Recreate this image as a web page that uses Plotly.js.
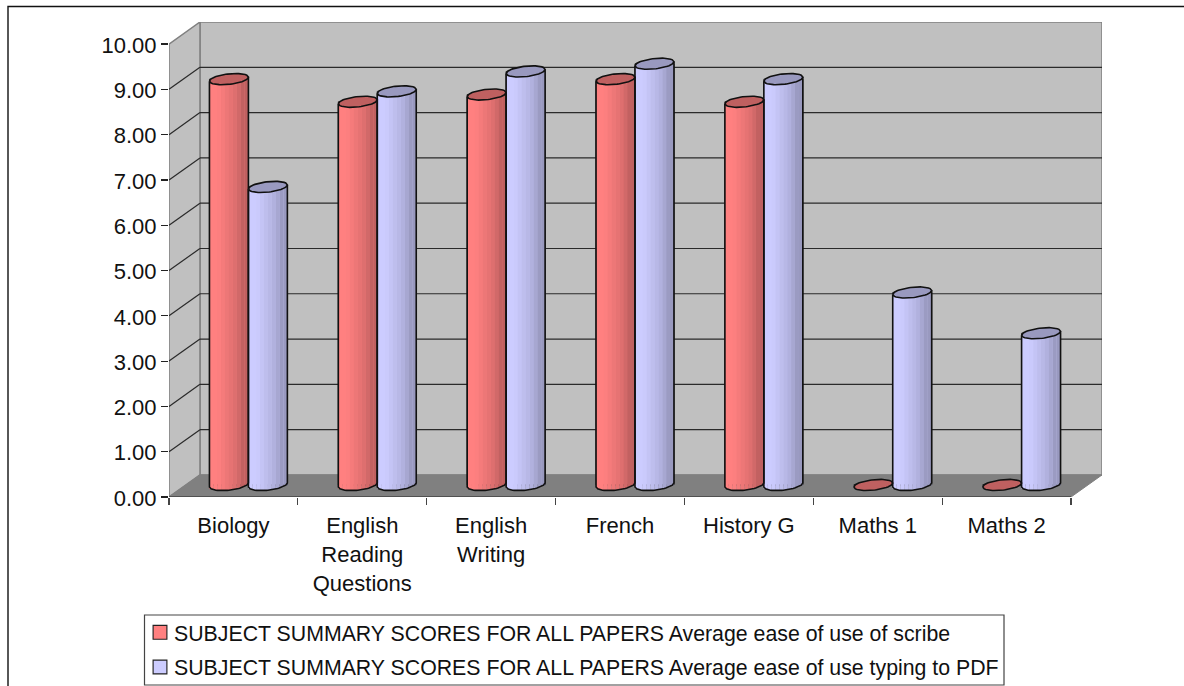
<!DOCTYPE html>
<html>
<head>
<meta charset="utf-8">
<script src="https://cdn.plot.ly/plotly-3.0.1.min.js"></script>
<style>html,body{margin:0;padding:0;background:#fff;overflow:hidden}#chart{width:1184px;height:686px}</style>
</head>
<body>
<div id="chart"></div>
<script>
// Average ease-of-use scores per subject
const categories = ['Biology', 'English<br>Reading<br>Questions', 'English<br>Writing', 'French', 'History G', 'Maths 1', 'Maths 2'];
const scribeScores = [8.96, 8.46, 8.62, 8.96, 8.46, 0, 0];
const typingScores = [6.58, 8.69, 9.13, 9.3, 8.96, 4.25, 3.35];
const scribeName = 'SUBJECT SUMMARY SCORES FOR ALL PAPERS Average ease of use of scribe';
const typingName = 'SUBJECT SUMMARY SCORES FOR ALL PAPERS Average ease of use typing to PDF';
const yTicks = [0, 1, 2, 3, 4, 5, 6, 7, 8, 9, 10];

// Plot geometry: pixels per axis unit, and the oblique depth of the fake 3D box
const W = 1184, H = 686, L = 169, R = 1102, T = 22, B = 497;
const pxX = 129, pxY = 45.2;
const depthX = 31 / pxX, depthY = 22 / pxY;
const xMax = 7 + depthX, yMax = 10 + depthY;

// Cylinder proportions, in pixels, converted to axis units where they are used
const radius = 19.5, rimDepth = 5.2, rimTilt = 2;
const seatX = 15 / pxX, seatY = 12 / pxY;
const shades = [1, 1, 0.99, 0.96, 0.93, 0.9, 0.87, 0.82, 0.76, 0.75];

const rimY = u => rimTilt * u / pxY;            // rises toward the right
const frontRim = u => rimY(u) - rimDepth * Math.sqrt(Math.max(0, 1 - u * u)) / pxY;
const backRim = u => rimY(u) + rimDepth * Math.sqrt(Math.max(0, 1 - u * u)) / pxY;
const shade = (rgb, f) => `rgb(${rgb.map(c => Math.round(c * f)).join(',')})`;
const range = n => Array.from({length: n}, (_, i) => i);

function seriesTraces(values, side, rgb, name) {
  const centre = i => i + 0.5 + seatX + side * radius / pxX;
  const traces = [{
    type: 'bar', name, legendgroup: name, x: values.map((_, i) => centre(i)), y: values,
    base: values.map(() => seatY), width: 2 * radius / pxX,
    marker: {color: shade(rgb, 1), line: {color: '#222', width: 1}},
    hoverinfo: 'skip'
  }];
  // vertical shading strips that give the cylinder its round look
  shades.forEach((f, k) => {
    const u = -1 + (2 * k + 1) / shades.length;
    traces.push({
      type: 'bar', showlegend: false, x: values.map((_, i) => centre(i) + u * radius / pxX), y: values,
      base: values.map(() => seatY + frontRim(u)), width: 2 * radius / pxX / shades.length + 0.0008,
      marker: {color: shade(rgb, f), line: {width: 0}}, hoverinfo: 'skip'
    });
  });
  // body outline and top face
  const sx = [], sy = [], fx = [], fy = [];
  const steps = range(25).map(j => -1 + j / 12);
  values.forEach((v, i) => {
    if (v > 0) {
      sx.push(centre(i) - radius / pxX); sy.push(seatY + v + rimY(-1));
      steps.forEach(u => { sx.push(centre(i) + u * radius / pxX); sy.push(seatY + frontRim(u)); });
      sx.push(centre(i) + radius / pxX, null); sy.push(seatY + v + rimY(1), null);
    }
    steps.forEach(u => { fx.push(centre(i) + u * radius / pxX); fy.push(seatY + v + frontRim(u)); });
    steps.slice().reverse().forEach(u => { fx.push(centre(i) + u * radius / pxX); fy.push(seatY + v + backRim(u)); });
    fx.push(null); fy.push(null);
  });
  traces.push({
    type: 'scatter', mode: 'lines', showlegend: false, x: sx, y: sy,
    line: {color: '#111', width: 1.6}, hoverinfo: 'skip'
  });
  traces.push({
    type: 'scatter', mode: 'lines', showlegend: false, x: fx, y: fy, fill: 'toself',
    fillcolor: shade(rgb, 0.75), line: {color: '#111', width: 1.6}, hoverinfo: 'skip'
  });
  return traces;
}

const data = [
  ...seriesTraces(scribeScores, -1, [255, 128, 128], scribeName),
  ...seriesTraces(typingScores, 1, [204, 204, 255], typingName)
];

// Walls, floor and gridlines of the box
const poly = pts => 'M' + pts.map(p => p.join(',')).join('L') + 'Z';
const shapes = [
  {type: 'path', xref: 'x', yref: 'y', layer: 'below', path: poly([[depthX, depthY], [xMax, depthY], [xMax, yMax], [depthX, yMax]]), fillcolor: '#c0c0c0', line: {color: '#808080', width: 1.5}},
  {type: 'path', xref: 'x', yref: 'y', layer: 'below', path: poly([[0, 0], [depthX, depthY], [depthX, yMax], [0, 10]]), fillcolor: '#c0c0c0', line: {color: '#808080', width: 1.5}},
  {type: 'path', xref: 'x', yref: 'y', layer: 'below', path: poly([[0, 0], [7, 0], [xMax, depthY], [depthX, depthY]]), fillcolor: '#808080', line: {color: '#808080', width: 1}}
];
yTicks.slice(1, -1).forEach(v => {
  const line = {color: '#2a2a2a', width: 1.2};
  shapes.push({type: 'line', xref: 'x', yref: 'y', layer: 'below', x0: depthX, x1: xMax, y0: v + depthY, y1: v + depthY, line});
  shapes.push({type: 'line', xref: 'x', yref: 'y', layer: 'below', x0: 0, x1: depthX, y0: v, y1: v + depthY, line});
});
shapes.push({type: 'line', xref: 'x', yref: 'y', layer: 'below', x0: 0, x1: 7, y0: 0, y1: 0, line: {color: '#222', width: 1.2}});

// Page frame and legend box, placed in pixels
const paperX = px => (px - L) / (R - L);
const paperY = py => (B - py) / (B - T);
shapes.push({type: 'rect', xref: 'paper', yref: 'paper', layer: 'below', x0: paperX(8), x1: paperX(1230), y0: paperY(6.5), y1: paperY(720), line: {color: '#111', width: 1.4}, fillcolor: 'rgba(0,0,0,0)'});
shapes.push({type: 'rect', xref: 'paper', yref: 'paper', layer: 'below', x0: paperX(144.5), x1: paperX(1004), y0: paperY(615), y1: paperY(685), line: {color: '#444', width: 1.2}, fillcolor: 'rgba(0,0,0,0)'});

const layout = {
  width: W, height: H, autosize: false,
  margin: {l: L, r: W - R, t: T, b: H - B, pad: 0, autoexpand: false},
  paper_bgcolor: '#fff', plot_bgcolor: 'rgba(0,0,0,0)',
  font: {family: '"Liberation Sans", Arial, sans-serif', size: 22, color: '#111'},
  barmode: 'overlay', shapes,
  xaxis: {
    range: [0, xMax], showgrid: false, zeroline: false, showline: false, fixedrange: true,
    tickmode: 'array', tickvals: categories.map((_, i) => i + 0.5), ticktext: categories,
    ticks: 'outside', ticklen: 9, tickcolor: 'rgba(0,0,0,0)', tickangle: 0,
    minor: {tickmode: 'array', tickvals: range(8), ticks: 'outside', ticklen: 7, tickcolor: '#444', tickwidth: 1.2, showgrid: false}
  },
  yaxis: {
    range: [0, yMax], showgrid: false, zeroline: false, showline: false, fixedrange: true,
    tickmode: 'array', tickvals: yTicks, tickformat: '.2f', ticklabelshift: 1,
    ticks: 'outside', ticklen: 7, tickcolor: '#222', tickwidth: 1.2
  },
  showlegend: true,
  legend: {
    x: paperX(134), y: paperY(612), xanchor: 'left', yanchor: 'top',
    bgcolor: 'rgba(0,0,0,0)', borderwidth: 0, font: {size: 21.3, color: '#111'},
    traceorder: 'grouped', tracegroupgap: 4
  }
};

Plotly.newPlot('chart', data, layout, {displayModeBar: false, staticPlot: true}).then(gd => {
  // The key squares sit closer to their text than the default legend spacing allows
  gd.querySelectorAll('.legend .legendsymbols').forEach(g => g.setAttribute('transform', 'translate(3,0) scale(1.15)'));
});
</script>
</body>
</html>
